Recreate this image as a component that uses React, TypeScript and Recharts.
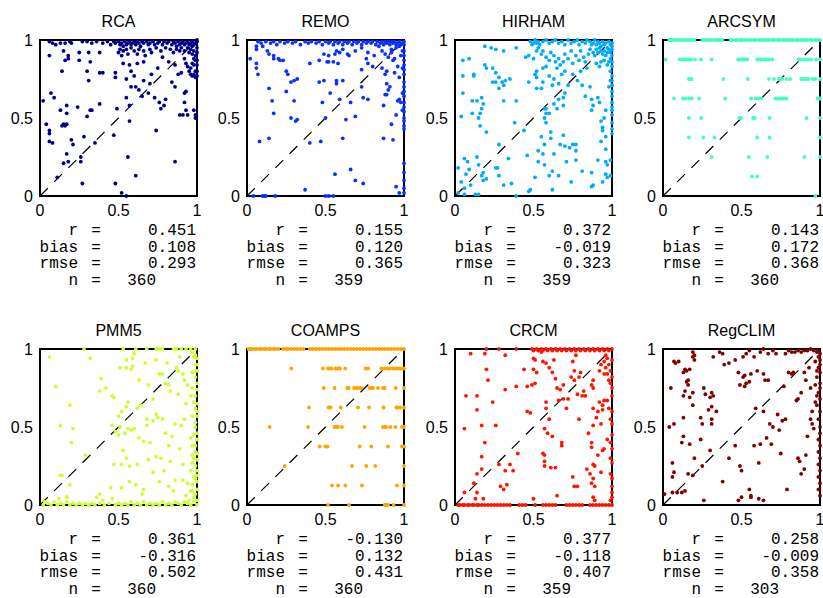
import React from 'react';
import { ScatterChart, Scatter, XAxis, YAxis, ReferenceArea, ReferenceLine } from 'recharts';

type P = [number, number];

const titles = ['RCA', 'REMO', 'HIRHAM', 'ARCSYM', 'PMM5', 'COAMPS', 'CRCM', 'RegCLIM'];
const colors = ['#000090', '#0a30ff', '#00aaff', '#40ffc0', '#ccff33', '#ffa500', '#ff1400', '#800000'];
const statR = ['0.451', '0.155', '0.372', '0.143', '0.361', '-0.130', '0.377', '0.258'];
const statBias = ['0.108', '0.120', '-0.019', '0.172', '-0.316', '0.132', '-0.118', '-0.009'];
const statRmse = ['0.293', '0.365', '0.323', '0.368', '0.502', '0.431', '0.407', '0.358'];
const statN = ['360', '359', '359', '360', '360', '360', '359', '303'];
const axisTicks = [0, 0.5, 1];

const rcaPoints: P[] = [
  [0.06,0.99],[0.08,0.98],[0.10,0.97],[0.13,0.98],[0.16,0.98],[0.19,0.99],[0.20,0.98],[0.27,0.99],[0.30,0.99],[0.33,0.98],[0.36,0.99],[0.40,0.98],[0.43,0.99],[0.45,0.97],[0.47,0.99],[0.48,0.98],[0.50,0.99],[0.51,0.97],[0.52,0.98],[0.53,0.96],[0.54,0.99],[0.55,0.97],[0.56,0.98],[0.57,0.99],[0.58,0.97],[0.59,0.98],[0.60,0.99],[0.61,0.97],[0.62,0.99],[0.63,0.98],[0.64,0.96],[0.65,0.99],[0.66,0.98],[0.68,0.99],[0.69,0.97],[0.70,0.98],[0.72,0.99],[0.73,0.97],[0.75,0.98],[0.76,0.99],[0.78,0.97],[0.79,0.99],[0.81,0.98],[0.82,0.99],[0.84,0.97],[0.85,0.99],[0.86,0.98],[0.87,0.96],[0.88,0.99],[0.89,0.97],[0.90,0.98],[0.91,0.99],[0.92,0.97],[0.93,0.98],[0.94,0.99],[0.95,0.97],[0.96,0.98],[0.97,0.99],[0.98,0.97],[0.99,0.98],[1.0,0.99],[1.0,1.0],
  [0.15,0.93],[0.18,0.90],[0.25,0.92],[0.31,0.92],[0.38,0.92],[0.50,0.92],[0.51,0.94],[0.53,0.93],[0.52,0.90],[0.55,0.94],[0.56,0.91],[0.58,0.95],[0.60,0.93],[0.63,0.94],[0.62,0.91],[0.66,0.93],[0.67,0.90],[0.70,0.94],[0.71,0.92],[0.74,0.95],[0.77,0.93],[0.80,0.95],[0.83,0.94],[0.85,0.92],[0.87,0.94],[0.89,0.93],[0.90,0.95],[0.92,0.93],[0.94,0.95],[0.95,0.92],[0.96,0.94],[0.97,0.91],[0.98,0.93],[0.99,0.90],[1.0,0.95],[1.0,0.92],[0.97,0.96],
  [0.06,0.90],[0.16,0.87],[0.18,0.88],[0.25,0.87],[0.32,0.86],[0.14,0.80],[0.30,0.80],[0.38,0.79],[0.40,0.79],[0.48,0.79],[0.53,0.85],[0.57,0.84],[0.58,0.80],[0.62,0.85],[0.66,0.86],[0.71,0.78],[0.75,0.82],[0.78,0.89],[0.82,0.86],[0.86,0.84],[0.88,0.78],[0.90,0.79],[0.92,0.88],[0.93,0.85],[0.94,0.83],[0.95,0.80],[0.96,0.82],[0.97,0.85],[0.96,0.78],[0.97,0.77],[0.98,0.78],[0.99,0.80],[0.98,0.84],[0.99,0.87],[1.0,0.87],[1.0,0.84],[1.0,0.80],[1.0,0.77],[0.98,0.88],[0.99,0.76],
  [0.31,0.74],[0.48,0.76],[0.55,0.75],[0.60,0.77],[0.61,0.70],[0.63,0.68],[0.66,0.74],[0.65,0.64],[0.69,0.66],[0.70,0.72],[0.73,0.63],[0.76,0.60],[0.77,0.56],[0.79,0.58],[0.80,0.62],[0.84,0.73],[0.86,0.70],[0.92,0.66],[0.92,0.60],[0.93,0.67],[0.94,0.52],[0.93,0.55],[0.89,0.52],[0.91,0.52],[0.99,0.52],[0.99,0.50],[0.98,0.55],[0.86,0.22],[0.74,0.42],[0.57,0.58],[0.55,0.63],[0.57,0.48],[0.58,0.70],[0.47,0.39],[0.49,0.56],[0.56,0.25],[0.61,0.13],[0.48,0.08],[0.52,0.02],[0.55,0.0],[0.27,0.08],[0.11,0.12],[0.15,0.21],[0.17,0.27],[0.18,0.22],[0.20,0.36],[0.21,0.33],[0.26,0.25],[0.26,0.22],[0.28,0.38],[0.35,0.34],[0.30,0.51],[0.24,0.57],[0.32,0.55],[0.33,0.55],[0.38,0.59],[0.02,0.61],[0.04,0.46],[0.06,0.42],[0.06,0.40],[0.06,0.35],[0.08,0.34],[0.07,0.66],[0.09,0.63],[0.13,0.55],[0.14,0.45],[0.15,0.46],[0.16,0.45],[0.17,0.46],[0.17,0.58],[0.17,0.53],
];

const remoPoints: P[] = [
  [0.07,0.99],[0.09,0.98],[0.12,0.99],[0.15,0.98],[0.17,0.99],[0.19,0.97],[0.21,0.99],[0.24,0.98],[0.26,0.99],[0.29,0.98],[0.31,0.99],[0.34,0.97],[0.37,0.99],[0.39,0.98],[0.41,0.99],[0.44,0.98],[0.46,0.99],[0.48,0.97],[0.50,0.99],[0.52,0.98],[0.53,0.99],[0.55,0.97],[0.56,0.99],[0.58,0.98],[0.59,0.99],[0.61,0.97],[0.62,0.99],[0.64,0.98],[0.65,0.99],[0.67,0.97],[0.68,0.99],[0.70,0.98],[0.71,0.99],[0.73,0.97],[0.74,0.99],[0.76,0.98],[0.77,0.99],[0.79,0.98],[0.80,0.99],[0.82,0.97],[0.83,0.99],[0.85,0.98],[0.86,0.99],[0.87,0.97],[0.88,0.99],[0.89,0.98],[0.90,0.99],[0.91,0.97],[0.92,0.99],[0.93,0.98],[0.94,0.99],[0.95,0.97],[0.96,0.98],[0.97,0.99],[0.98,0.97],[0.99,0.98],[1.0,0.99],[1.0,0.97],[0.97,0.96],[0.95,0.95],
  [0.06,0.96],[0.06,0.94],[0.10,0.96],[0.13,0.93],[0.14,0.91],[0.17,0.90],[0.17,0.88],[0.20,0.88],[0.21,0.87],[0.23,0.87],[0.02,0.88],[0.06,0.85],[0.06,0.82],[0.07,0.78],[0.25,0.80],[0.26,0.78],[0.28,0.73],[0.30,0.74],[0.32,0.75],[0.40,0.85],[0.46,0.87],[0.51,0.86],[0.52,0.86],[0.55,0.86],[0.49,0.91],[0.52,0.90],[0.56,0.91],[0.57,0.93],[0.59,0.92],[0.61,0.94],[0.64,0.91],[0.65,0.90],[0.69,0.93],[0.73,0.95],[0.77,0.92],[0.81,0.90],[0.84,0.96],[0.86,0.93],[0.88,0.91],[0.90,0.89],[0.92,0.94],[0.58,0.85],[0.73,0.81],[0.77,0.85],[0.76,0.88],[0.80,0.83],[0.93,0.87],[0.94,0.88],[0.92,0.92],[0.96,0.83],[0.97,0.76],[0.88,0.78],[0.89,0.80],[0.86,0.82],[0.98,0.90],[0.99,0.93],
  [0.14,0.69],[0.25,0.67],[0.30,0.61],[0.16,0.61],[0.17,0.53],[0.28,0.50],[0.31,0.48],[0.32,0.49],[0.08,0.35],[0.14,0.37],[0.40,0.34],[0.47,0.35],[0.50,0.50],[0.48,0.60],[0.53,0.66],[0.46,0.73],[0.49,0.74],[0.57,0.74],[0.57,0.72],[0.61,0.74],[0.59,0.62],[0.63,0.49],[0.61,0.37],[0.69,0.51],[0.66,0.60],[0.73,0.70],[0.74,0.63],[0.77,0.62],[0.87,0.37],[0.93,0.36],[0.92,0.46],[0.95,0.52],[0.96,0.61],[0.97,0.62],[0.98,0.60],[0.88,0.65],[0.89,0.65],[0.87,0.58],[0.89,0.72],[0.90,0.68],[0.91,0.70],[0.94,0.79],
  [1.0,0.02],[1.0,0.05],[1.0,0.10],[1.0,0.15],[1.0,0.21],[1.0,0.43],[1.0,0.45],[1.0,0.48],[1.0,0.50],[1.0,0.54],[1.0,0.57],[1.0,0.60],[1.0,0.64],[1.0,0.67],[1.0,0.70],[1.0,0.73],[1.0,0.78],[1.0,0.81],[1.0,0.84],[1.0,0.87],[1.0,0.90],[1.0,0.93],[0.99,0.66],[0.99,0.55],[0.99,0.82],
  [0.04,0.0],[0.10,0.0],[0.11,0.0],[0.12,0.0],[0.18,0.0],[0.50,0.0],[0.52,0.0],[0.55,0.0],[0.37,0.04],[0.56,0.14],[0.66,0.17],[0.69,0.10],[0.74,0.08],[0.95,0.06],[0.97,0.02],
];

const hirhamPoints: P[] = [
  [0.48,0.99],[0.49,0.97],[0.50,0.98],[0.51,1.0],[0.52,0.98],[0.53,0.99],[0.54,0.97],[0.56,0.99],[0.58,1.0],[0.60,0.98],[0.62,0.99],[0.64,1.0],[0.66,0.98],[0.68,0.99],[0.70,0.97],[0.72,1.0],[0.74,0.98],[0.76,0.99],[0.78,1.0],[0.79,0.97],[0.81,0.99],[0.83,0.98],[0.84,1.0],[0.86,0.99],[0.87,0.97],[0.88,0.98],[0.89,1.0],[0.90,0.97],[0.91,0.99],[0.92,0.98],[0.93,0.96],[0.94,0.99],[0.95,0.97],[0.96,0.98],[0.97,0.95],[0.98,0.99],[0.99,0.97],[1.0,0.98],[1.0,0.96],[1.0,0.94],[0.99,0.92],[0.98,0.94],[0.97,0.92],[0.96,0.90],[0.95,0.93],[0.94,0.91],[0.93,0.93],[0.92,0.95],[0.91,0.92],[0.90,0.94],[0.89,0.90],[0.88,0.92],[0.86,0.94],[0.85,0.91],[0.99,0.88],[1.0,0.90],[0.98,0.86],[0.97,0.84],[0.95,0.87],[0.93,0.86],[0.92,0.83],[0.90,0.85],[1.0,0.86],[1.0,0.83],[0.99,0.80],
  [0.19,0.96],[0.23,0.95],[0.26,0.94],[0.31,0.93],[0.39,0.95],[0.05,0.87],[0.09,0.88],[0.19,0.84],[0.20,0.82],[0.24,0.82],[0.26,0.79],[0.24,0.73],[0.26,0.73],[0.28,0.76],[0.30,0.73],[0.32,0.74],[0.35,0.75],[0.28,0.69],[0.31,0.71],[0.31,0.61],[0.39,0.61],[0.05,0.77],[0.05,0.66],[0.12,0.77],[0.12,0.78],[0.45,0.89],[0.47,0.90],[0.50,0.88],[0.52,0.93],[0.53,0.95],[0.55,0.91],[0.56,0.93],[0.58,0.89],[0.60,0.87],[0.61,0.92],[0.63,0.90],[0.64,0.86],[0.66,0.88],[0.67,0.84],[0.69,0.86],[0.70,0.91],[0.72,0.88],[0.74,0.93],[0.75,0.85],[0.77,0.90],[0.79,0.87],[0.80,0.93],[0.82,0.89],[0.83,0.86],[0.70,0.80],[0.68,0.78],[0.65,0.82],[0.47,0.73],[0.51,0.78],[0.52,0.80],[0.52,0.76],[0.56,0.73],[0.55,0.69],[0.52,0.69],[0.56,0.82],[0.58,0.83],[0.60,0.77],[0.63,0.75],[0.62,0.71],[0.66,0.72],[0.75,0.78],[0.78,0.74],[0.80,0.80],[0.84,0.82],
  [0.11,0.53],[0.11,0.61],[0.14,0.61],[0.17,0.63],[0.18,0.59],[0.17,0.56],[0.16,0.53],[0.15,0.50],[0.16,0.45],[0.20,0.41],[0.04,0.51],[0.38,0.47],[0.44,0.42],[0.57,0.56],[0.58,0.56],[0.58,0.53],[0.60,0.53],[0.57,0.50],[0.58,0.47],[0.65,0.56],[0.66,0.62],[0.69,0.58],[0.69,0.63],[0.70,0.66],[0.72,0.71],[0.63,0.59],[0.61,0.41],[0.61,0.37],[0.55,0.38],[0.57,0.33],[0.69,0.39],[0.67,0.33],[0.70,0.32],[0.75,0.33],[0.73,0.31],[0.77,0.29],[0.77,0.33],[0.81,0.71],[0.83,0.64],[0.87,0.62],[0.88,0.58],[0.87,0.55],[0.86,0.70],[0.91,0.63],[0.92,0.60],[0.93,0.48],[0.94,0.44],[0.94,0.42],[0.93,0.35],[0.96,0.38],[0.96,0.55],[0.95,0.50],[0.96,0.30],[0.97,0.20],[0.96,0.14],[0.97,0.12],[0.99,0.13],[0.99,0.23],[1.0,0.40],[1.0,0.43],[1.0,0.47],[1.0,0.52],[1.0,0.55],[1.0,0.57],[1.0,0.60],[1.0,0.64],[1.0,0.67],[1.0,0.71],[1.0,0.74],[1.0,0.77],[0.99,0.74],[0.98,0.70],
  [0.02,0.18],[0.06,0.24],[0.08,0.22],[0.09,0.17],[0.07,0.14],[0.04,0.09],[0.10,0.07],[0.06,0.05],[0.02,0.02],[0.06,0.01],[0.13,0.01],[0.15,0.01],[0.14,0.25],[0.15,0.20],[0.18,0.15],[0.17,0.13],[0.18,0.10],[0.20,0.11],[0.26,0.18],[0.27,0.18],[0.28,0.13],[0.28,0.33],[0.31,0.07],[0.36,0.08],[0.39,0.0],[0.34,0.24],[0.46,0.26],[0.47,0.03],[0.48,0.04],[0.51,0.12],[0.53,0.22],[0.53,0.29],[0.57,0.20],[0.60,0.13],[0.62,0.04],[0.62,0.16],[0.66,0.13],[0.71,0.22],[0.74,0.09],[0.77,0.23],[0.81,0.16],[0.87,0.06],[0.87,0.15],[0.88,0.07],[0.91,0.23],[0.94,0.09],[0.96,0.22],[0.63,0.27],[0.56,0.27],
];

const arcsymRows: [number, number[]][] = [
  [1, [0.04,0.05,0.06,0.08,0.09,0.11,0.12,0.14,0.15,0.17,0.19,0.20,0.25,0.26,0.28,0.29,0.31,0.33,0.35,0.36,0.38,0.43,0.44,0.46,0.47,0.49,0.50,0.52,0.53,0.55,0.56,0.58,0.59,0.61,0.62,0.64,0.65,0.67,0.68,0.70,0.71,0.73,0.74,0.76,0.77,0.79,0.80,0.82,0.83,0.85,0.86,0.88,0.89,0.91,0.92,0.94,0.95,0.97,0.98,1.0]],
  [0.875, [0.017,0.107,0.118,0.128,0.139,0.15,0.165,0.178,0.204,0.242,0.31,0.478,0.488,0.499,0.51,0.52,0.535,0.6,0.61,0.625,0.642,0.657,0.675,0.696,0.863,0.878,0.9,0.921,0.942,0.974,1.0]],
  [0.75, [0.165,0.178,0.182,0.385,0.54,0.675,0.707,0.739,0.76,0.788,0.81,0.88,0.895,0.91,0.927,0.953,0.97,1.0]],
  [0.625, [0.07,0.128,0.143,0.165,0.182,0.23,0.396,0.561,0.589,0.61,0.623,0.717,0.73,0.743,0.754,0.769,0.786,0.985,0.996,1.0]],
  [0.5, [0.165,0.242,0.486,0.497,0.574,0.585,0.679,0.914,1.0]],
  [0.375, [0.165,0.257,0.328,0.6,0.679,1.0]],
  [0.25, [0.31,0.546,0.664,0.9,1.0]],
  [0.125, [0.567,0.6]],
  [0, [0.97]],
];

const pmm5Points: P[] = [
  [0.28,1.0],[0.53,1.0],[0.61,1.0],[0.68,1.0],[0.74,1.0],[0.76,1.0],[0.78,1.0],[0.85,1.0],[0.87,1.0],[0.90,1.0],[0.93,1.0],[0.96,1.0],[0.99,1.0],[0.97,0.98],[0.99,0.96],
  [0.06,0.95],[0.32,0.94],[0.10,0.76],[0.39,0.81],[0.38,0.73],[0.42,0.75],[0.46,0.70],[0.47,0.69],[0.51,0.88],[0.55,0.88],[0.58,0.87],[0.59,0.89],[0.55,0.93],[0.59,0.94],[0.60,0.97],[0.67,0.91],[0.74,0.93],[0.81,0.91],[0.78,0.84],[0.76,0.84],[0.80,0.78],[0.82,0.77],[0.83,0.73],[0.87,0.88],[0.89,0.95],[0.88,0.86],[0.91,0.84],[0.92,0.80],[0.94,0.77],[0.97,0.75],[0.99,0.82],[1.0,0.86],[0.99,0.90],[0.98,0.95],[0.97,0.85],[0.96,0.70],[0.98,0.66],[0.99,0.62],[1.0,0.57],[0.99,0.50],[0.98,0.45],[1.0,0.42],[0.97,0.38],[0.99,0.34],[0.98,0.30],[0.97,0.27],[1.0,0.22],[0.99,0.17],[0.97,0.13],[0.96,0.09],[0.98,0.05],[0.95,0.03],[0.92,0.02],[0.93,0.06],[0.94,0.14],[0.91,0.16],[0.91,0.26],[0.89,0.36],[0.90,0.51],[0.92,0.55],[0.93,0.65],[0.88,0.71],[0.86,0.52],[0.84,0.44],[0.82,0.38],[0.80,0.46],[0.78,0.55],[0.75,0.56],[0.72,0.68],[0.69,0.77],[0.63,0.80],[0.64,0.64],[0.62,0.62],[0.56,0.66],[0.55,0.63],[0.52,0.60],[0.50,0.57],[0.51,0.50],[0.50,0.45],[0.54,0.46],[0.56,0.49],[0.58,0.48],[0.60,0.49],[0.63,0.43],[0.66,0.41],[0.68,0.51],[0.68,0.55],[0.72,0.54],[0.74,0.58],[0.70,0.40],[0.74,0.31],[0.69,0.29],[0.62,0.26],[0.57,0.25],[0.55,0.30],[0.53,0.35],[0.52,0.26],[0.47,0.26],[0.57,0.15],[0.52,0.11],[0.61,0.13],[0.66,0.10],[0.65,0.07],[0.72,0.21],[0.76,0.15],[0.79,0.22],[0.82,0.12],[0.85,0.09],[0.86,0.16],[0.83,0.28],[0.77,0.30],[0.45,0.11],[0.46,0.04],[0.38,0.07],[0.29,0.32],[0.13,0.19],[0.14,0.19],[0.19,0.13],[0.17,0.05],[0.20,0.40],[0.19,0.64],[0.13,0.51],[0.21,0.49],[0.46,0.51],[0.48,0.47],
  [1.0,0.15],[1.0,0.19],[0.99,0.25],[1.0,0.29],[1.0,0.33],[0.99,0.38],[1.0,0.46],[0.99,0.53],[1.0,0.60],[1.0,0.65],[0.99,0.70],[1.0,0.74],[1.0,0.78],[0.99,0.86],[1.0,0.90],[1.0,0.94],[0.97,0.57],[0.96,0.43],[0.97,0.32],[0.96,0.22],[0.98,0.18],[0.97,0.09],
  [0.02,0.0],[0.03,0.02],[0.05,0.01],[0.07,0.0],[0.09,0.02],[0.11,0.0],[0.13,0.01],[0.15,0.0],[0.17,0.02],[0.19,0.0],[0.21,0.01],[0.23,0.0],[0.25,0.01],[0.27,0.0],[0.29,0.01],[0.31,0.0],[0.33,0.01],[0.35,0.0],[0.38,0.01],[0.41,0.0],[0.44,0.01],[0.48,0.0],[0.50,0.01],[0.52,0.0],[0.54,0.01],[0.56,0.0],[0.58,0.02],[0.60,0.0],[0.62,0.01],[0.64,0.0],[0.66,0.02],[0.68,0.0],[0.70,0.01],[0.72,0.0],[0.74,0.01],[0.76,0.0],[0.78,0.02],[0.80,0.0],[0.82,0.01],[0.84,0.0],[0.86,0.02],[0.88,0.01],[0.90,0.0],[0.92,0.02],[0.94,0.01],[0.96,0.0],[0.98,0.02],[1.0,0.0],[1.0,0.03],[0.99,0.07],[1.0,0.10],[0.12,0.04],[0.17,0.05],[0.36,0.05],[0.40,0.03],
];

const coampsRows: [number, number[]][] = [
  [1, [0.01,0.02,0.03,0.05,0.06,0.08,0.09,0.11,0.12,0.14,0.15,0.17,0.18,0.20,0.23,0.25,0.26,0.28,0.30,0.32,0.34,0.36,0.40,0.42,0.44,0.46,0.48,0.50,0.52,0.54,0.56,0.58,0.60,0.62,0.64,0.66,0.68,0.70,0.72,0.74,0.76,0.78,0.80,0.82,0.84,0.86,0.88,0.90,0.92,0.94,0.96,0.98,1.0]],
  [0.875, [0.282,0.484,0.516,0.527,0.537,0.563,0.58,0.592,0.626,0.756,0.771,0.856,0.877,0.894,0.909,0.93,0.945,0.958,0.973,0.988,1.0]],
  [0.75, [0.488,0.558,0.639,0.648,0.682,0.692,0.703,0.718,0.728,0.781,0.796,0.803,0.834,0.866,0.877,0.947,1.0]],
  [0.625, [0.395,0.52,0.533,0.597,0.707,0.777,0.87,0.951,0.962,0.977,1.0]],
  [0.5, [0.144,0.389,0.558,0.569,0.58,0.605,0.749,0.866,0.877,0.887,0.913,0.945,0.987,1.0]],
  [0.375, [0.463,0.499,0.512,0.718,0.792,0.898,0.987,1.0]],
  [0.25, [0.24,0.669,0.76,0.817,1.0]],
  [0.125, [0.541,0.58,0.626,0.732,0.955,1.0]],
  [0, [0.516,0.65,0.877,0.887,0.898,0.934,1.0]],
];

const crcmPoints: P[] = [
  [0.10,0.97],[0.19,0.97],[0.20,1.0],[0.28,1.0],[0.32,0.96],[0.39,1.0],
  [0.49,1.0],[0.50,0.99],[0.52,1.0],[0.53,0.99],[0.55,1.0],[0.56,0.99],[0.58,1.0],[0.59,0.99],[0.61,1.0],[0.62,0.99],[0.64,1.0],[0.65,0.99],[0.67,1.0],[0.68,0.99],[0.70,1.0],[0.71,0.99],[0.73,1.0],[0.74,0.99],[0.76,1.0],[0.77,0.99],[0.79,1.0],[0.80,0.99],[0.82,1.0],[0.83,0.99],[0.85,1.0],[0.86,0.99],[0.88,1.0],[0.89,0.99],[0.91,1.0],[0.92,0.99],[0.94,1.0],[0.95,0.99],[0.97,1.0],[0.98,0.99],[1.0,1.0],
  [0.20,0.87],[0.21,0.80],[0.32,0.74],[0.39,0.76],[0.07,0.70],[0.14,0.70],[0.14,0.61],[0.24,0.66],[0.06,0.49],[0.17,0.51],[0.26,0.51],[0.19,0.40],[0.17,0.31],[0.17,0.23],[0.14,0.20],[0.12,0.14],[0.14,0.08],[0.18,0.04],[0.13,0.04],[0.06,0.08],[0.28,0.26],[0.32,0.22],[0.35,0.26],[0.37,0.22],[0.29,0.12],[0.31,0.10],[0.33,0.13],[0.40,0.33],[0.44,0.87],[0.46,0.76],[0.49,0.77],[0.51,0.78],[0.46,0.60],[0.48,0.59],[0.50,0.87],[0.50,0.94],[0.51,0.93],[0.52,0.85],[0.55,0.98],[0.56,0.92],[0.58,0.91],[0.60,0.88],[0.63,0.93],[0.62,0.85],[0.64,0.81],[0.65,0.75],[0.67,0.74],[0.69,0.77],[0.58,0.66],[0.58,0.62],[0.57,0.49],[0.59,0.46],[0.62,0.44],[0.60,0.55],[0.56,0.33],[0.57,0.32],[0.57,0.28],[0.57,0.25],[0.61,0.24],[0.64,0.24],[0.68,0.38],[0.68,0.40],[0.65,0.06],[0.50,0.04],[0.66,0.67],[0.69,0.68],[0.71,0.62],[0.72,0.68],[0.74,0.82],[0.76,0.80],[0.76,0.86],[0.75,0.92],[0.77,0.96],[0.80,0.85],[0.79,0.82],[0.82,0.73],[0.78,0.71],[0.81,0.70],[0.83,0.70],[0.79,0.55],[0.75,0.18],[0.76,0.12],[0.78,0.12],[0.85,0.46],[0.87,0.40],[0.87,0.37],[0.88,0.51],[0.88,0.62],[0.87,0.77],[0.88,0.75],[0.88,0.80],[0.90,0.56],[0.91,0.60],[0.92,0.66],[0.94,0.61],[0.94,0.64],[0.95,0.67],[0.93,0.52],[0.94,0.35],[0.95,0.36],[0.91,0.32],[0.93,0.21],[0.88,0.26],[0.89,0.25],[0.86,0.20],[0.88,0.17],[0.87,0.14],[0.89,0.12],[0.88,0.05],[0.89,0.03],[0.84,0.23],[0.97,0.67],[0.98,0.62],[0.99,0.55],[0.97,0.42],[0.99,0.40],[1.0,0.36],[0.99,0.30],[1.0,0.27],[0.99,0.20],[1.0,0.12],[1.0,0.08],[1.0,0.05],[0.99,0.03],[1.0,0.70],[1.0,0.75],[0.99,0.78],[1.0,0.82],[0.99,0.86],[0.98,0.90],[1.0,0.93],[0.97,0.94],[0.96,0.96],[0.95,0.92],[0.96,0.88],[0.97,0.84],[0.98,0.80],[0.93,0.90],[0.92,0.86],[0.95,0.84],[1.0,0.60],[1.0,0.52],[1.0,0.45],[1.0,0.17],
  [0.02,0.0],[0.03,0.0],[0.05,0.0],[0.06,0.0],[0.08,0.0],[0.09,0.0],[0.11,0.0],[0.12,0.0],[0.14,0.0],[0.15,0.0],[0.17,0.0],[0.19,0.0],[0.21,0.0],[0.23,0.0],[0.25,0.0],[0.27,0.0],[0.29,0.0],[0.31,0.0],[0.33,0.0],[0.35,0.0],[0.41,0.0],[0.43,0.0],[0.45,0.0],[0.51,0.0],[0.56,0.0],[0.58,0.0],[0.60,0.0],[0.62,0.0],[0.64,0.0],[0.71,0.0],[0.73,0.0],[0.75,0.0],[0.77,0.0],[0.79,0.0],[0.81,0.0],[0.86,0.0],[0.88,0.0],[0.90,0.0],[0.92,0.0],[0.94,0.0],[0.96,0.0],[0.98,0.0],[1.0,0.0],
];

const regclimPoints: P[] = [
  [0.19,0.98],[0.20,0.96],[0.19,0.95],[0.20,0.93],[0.07,0.92],[0.08,0.91],[0.10,0.92],[0.14,0.87],[0.15,0.86],[0.13,0.85],[0.17,0.87],[0.16,0.80],[0.15,0.79],[0.16,0.77],[0.14,0.73],[0.05,0.75],[0.13,0.70],[0.19,0.72],[0.17,0.69],[0.19,0.64],[0.26,0.75],[0.27,0.71],[0.30,0.69],[0.31,0.72],[0.32,0.70],[0.31,0.63],[0.29,0.61],[0.34,0.60],[0.24,0.56],[0.31,0.55],[0.25,0.52],[0.31,0.52],[0.13,0.56],[0.04,0.50],[0.07,0.52],[0.13,0.44],[0.12,0.40],[0.17,0.39],[0.24,0.42],[0.20,0.30],[0.30,0.35],[0.25,0.25],[0.16,0.20],[0.19,0.19],[0.06,0.27],[0.07,0.21],[0.06,0.18],[0.09,0.08],[0.06,0.08],[0.12,0.08],[0.14,0.09],[0.01,0.07],[0.26,0.03],[0.38,0.15],[0.42,0.30],[0.46,0.38],[0.49,0.25],[0.50,0.22],[0.48,0.03],[0.50,0.05],[0.55,0.10],[0.56,0.06],[0.56,0.05],[0.61,0.04],[0.64,0.03],[0.58,0.38],[0.62,0.39],[0.61,0.27],[0.66,0.43],[0.69,0.39],[0.68,0.52],[0.64,0.60],[0.59,0.62],[0.73,0.58],[0.74,0.48],[0.70,0.50],[0.76,0.54],[0.78,0.55],[0.75,0.33],[0.79,0.10],[0.86,0.30],[0.87,0.28],[0.90,0.23],[0.88,0.20],[0.91,0.32],[0.92,0.44],[0.95,0.52],[0.95,0.60],[0.94,0.55],[0.96,0.49],[0.85,0.67],[0.86,0.68],[0.88,0.72],[0.91,0.80],[0.94,0.75],[0.97,0.77],[0.90,0.85],[0.93,0.88],[0.77,0.76],[0.80,0.85],[0.82,0.84],[0.83,0.85],[0.67,0.80],[0.65,0.80],[0.64,0.84],[0.60,0.86],[0.56,0.84],[0.55,0.79],[0.53,0.78],[0.52,0.76],[0.49,0.77],[0.51,0.82],[0.52,0.83],[0.48,0.85],[0.38,0.97],[0.36,0.98],[0.32,0.95],[0.39,0.90],[0.42,0.91],[0.46,0.93],[0.51,0.95],[0.53,0.97],[0.55,0.99],[0.58,0.95],[0.62,0.98],[0.64,1.0],[0.67,0.97],[0.70,0.99],[0.72,0.97],[0.78,0.97],[0.80,0.99],[0.82,0.98],[0.84,0.98],[0.86,0.99],[0.88,0.98],[0.90,0.99],[0.92,0.99],[0.94,1.0],[0.96,0.99],[0.98,0.98],[0.99,0.95],[1.0,0.93],[0.97,0.92],[0.99,0.88],[1.0,0.85],[0.98,0.82],[1.0,0.78],[0.99,0.72],[1.0,0.68],[0.98,0.64],[1.0,0.60],[0.99,0.55],[1.0,0.50],[1.0,0.46],[0.99,0.42],[1.0,0.38],[0.99,0.34],[1.0,0.30],[0.99,0.26],[1.0,0.22],[0.99,0.18],[1.0,0.14],[0.99,0.10],[1.0,0.06],[0.98,0.70],[0.97,0.66],[1.0,0.97],[0.99,0.99],[1.0,0.90],[0.98,0.86],[1.0,0.75],
];

const fromRows = (rows: [number, number[]][]): P[] => rows.flatMap(([y, xs]) => xs.map((x) => [x, y] as P));

const panelData: P[][] = [rcaPoints, remoPoints, hirhamPoints, fromRows(arcsymRows), pmm5Points, fromRows(coampsRows), crcmPoints, regclimPoints];

const PLOT_LEFTS = [40, 247, 455, 663];
const PLOT_TOPS = [40, 349];
const PW = 157;
const PH = 156;
const ML = 40;
const MT = 10;

const tickStyle = { fill: '#000', fontSize: 16, fontFamily: '"Liberation Sans", Arial, Helvetica, sans-serif' };

function Panel({ idx }: { idx: number }) {
  const col = idx % 4;
  const row = Math.floor(idx / 4);
  const left = PLOT_LEFTS[col];
  const top = PLOT_TOPS[row];
  const color = colors[idx];
  const data = panelData[idx].map(([x, y]) => ({ x, y }));
  return (
    <div style={{ position: 'absolute', left: left - ML, top: top - MT }}>
      <ScatterChart width={ML + PW + 10} height={MT + PH + 30} margin={{ top: MT, right: 10, bottom: 0, left: 0 }}>
        <XAxis type="number" dataKey="x" domain={[0, 1]} ticks={axisTicks} interval={0} axisLine={false} tickLine={false} tickSize={0} tickMargin={9} height={30} tick={tickStyle} />
        <YAxis type="number" dataKey="y" domain={[0, 1]} ticks={axisTicks} interval={0} axisLine={false} tickLine={false} tickSize={0} tickMargin={7} width={ML} tick={tickStyle} />
        <ReferenceArea x1={0} x2={1} y1={0} y2={1} fill="none" fillOpacity={0} stroke="#000" strokeWidth={2} ifOverflow="visible" />
        <ReferenceLine segment={[{ x: 0, y: 0 }, { x: 1, y: 1 }]} stroke="#000" strokeWidth={1.2} strokeDasharray="11 9" />
        <Scatter
          data={data}
          isAnimationActive={false}
          shape={(p: any) => <circle cx={p.cx} cy={p.cy} r={1.9} fill={color} />}
        />
      </ScatterChart>
    </div>
  );
}

export default function App() {
  const mono = '"Liberation Mono", "DejaVu Sans Mono", monospace';
  const sans = '"Liberation Sans", Arial, Helvetica, sans-serif';
  return (
    <div style={{ position: 'absolute', left: 0, top: 0, width: 823, height: 598, overflow: 'hidden', background: '#fff' }}>
      {titles.map((_, i) => <Panel key={i} idx={i} />)}
      <svg width={823} height={598} style={{ position: 'absolute', left: 0, top: 0, pointerEvents: 'none' }}>
        {titles.map((t, i) => {
          const L = PLOT_LEFTS[i % 4];
          const T = PLOT_TOPS[Math.floor(i / 4)];
          const B = T + PH;
          const labels = ['r', 'bias', 'rmse', 'n'];
          const vals = [statR[i], statBias[i], statRmse[i], statN[i]];
          return (
            <g key={t}>
              <text x={L + PW / 2} y={T - 13.5} textAnchor="middle" fontFamily={sans} fontSize={16} fill="#000">{t}</text>
              {labels.map((lab, k) => {
                const y = B + 39 + k * 16.5;
                return (
                  <g key={lab}>
                    <text x={L + 38} y={y} textAnchor="end" fontFamily={mono} fontSize={16} fill="#000">{lab}</text>
                    <text x={L + 56} y={y} textAnchor="middle" fontFamily={mono} fontSize={16} fill="#000">=</text>
                    <text x={k === 3 ? L + 116 : L + 156} y={y} textAnchor="end" fontFamily={mono} fontSize={16} fill="#000">{vals[k]}</text>
                  </g>
                );
              })}
            </g>
          );
        })}
      </svg>
    </div>
  );
}
